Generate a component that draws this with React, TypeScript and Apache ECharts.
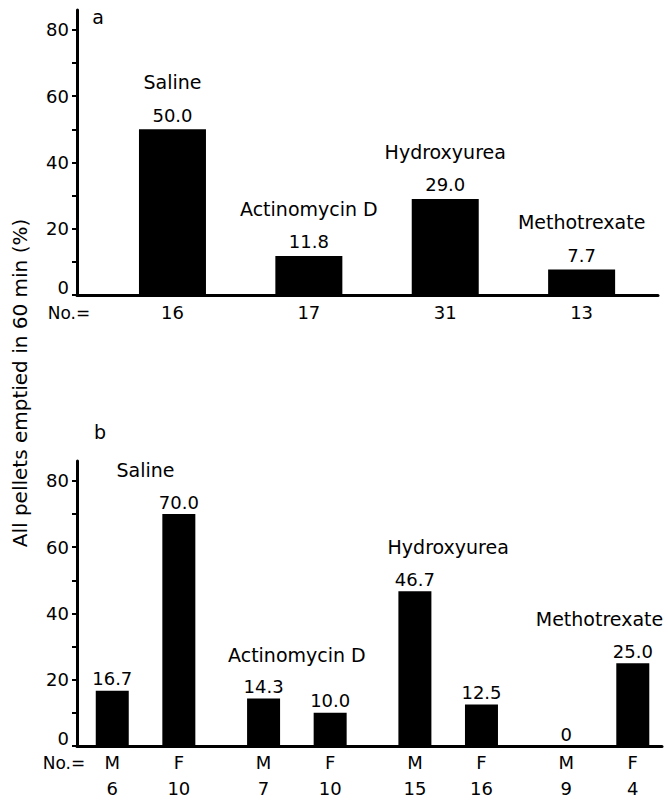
import React, { useEffect, useRef } from "react";
import * as echarts from "echarts";

// Drug groups (same order in both panels)
const drugGroups = ["Saline", "Actinomycin D", "Hydroxyurea", "Methotrexate"];

// Panel a: all animals pooled
const pooledPercent = [50.0, 11.8, 29.0, 7.7];
const pooledCounts = [16, 17, 31, 13];

// Panel b: split by sex, M then F inside each drug group
const sexes = ["M", "F"];
const malePercent = [16.7, 14.3, 46.7, 0];
const femalePercent = [70.0, 10.0, 12.5, 25.0];
const maleCounts = [6, 7, 15, 9];
const femaleCounts = [10, 10, 16, 4];

// Y axis: labelled every 20, ticked every 10
const yLabelValues = [0, 20, 40, 60, 80];
const yTickValues = [0, 10, 20, 30, 40, 50, 60, 70, 80];

const yTitle = "All pellets emptied in 60 min (%)";

const FONT = "'DejaVu Sans', 'Liberation Sans', sans-serif";
const INK = "#000";
const PAIR_HALF_GAP = 0.22; // half distance between the M and F bars of one group

const fmtValue = (v: number) => (v === 0 ? "0" : v.toFixed(1));

const groupPos = drugGroups.map((_, g) => g);
const pairPos: number[] = [];
const pairLabels: string[] = [];
const pairValues: number[] = [];
drugGroups.forEach((_, g) => {
  sexes.forEach((s) => {
    const isM = s === "M";
    pairPos.push(isM ? g - PAIR_HALF_GAP : g + PAIR_HALF_GAP);
    pairLabels.push(`${s}\n${isM ? maleCounts[g] : femaleCounts[g]}`);
    pairValues.push(isM ? malePercent[g] : femalePercent[g]);
  });
});

const nearestIndex = (arr: number[], v: number) => {
  let best = 0;
  arr.forEach((p, i) => {
    if (Math.abs(p - v) < Math.abs(arr[best] - v)) best = i;
  });
  return best;
};

const makeYAxis = (gridIndex: number) => ({
  type: "value",
  gridIndex,
  min: 0,
  max: 86,
  axisLine: { show: true, onZero: false, lineStyle: { color: INK, width: 3 } },
  axisTick: {
    show: true,
    inside: false,
    length: 5,
    customValues: yTickValues,
    lineStyle: { color: INK, width: 2 },
  },
  axisLabel: {
    show: true,
    customValues: yLabelValues,
    color: INK,
    fontSize: 18,
    fontFamily: FONT,
    margin: 8,
    // the zero label is lifted clear of the category axis
    formatter: (v: number) => (v === 0 ? "{zero|0}" : String(v)),
    rich: {
      zero: { fontSize: 18, fontFamily: FONT, color: INK, padding: [0, 0, 16, 0] },
    },
  },
  splitLine: { show: false },
});

const baseTextStyle = { fill: INK, fontFamily: FONT };

export default function App() {
  const ref = useRef<HTMLDivElement>(null);

  useEffect(() => {
    if (!ref.current) return;
    const chart = echarts.init(ref.current, null, { renderer: "svg" });

    const option: any = {
      animation: false,
      backgroundColor: "#fff",
      grid: [
        { left: 77, top: 10, width: 581, height: 285 },
        { left: 77, top: 461, width: 585, height: 285 },
      ],
      xAxis: [
        {
          type: "value",
          gridIndex: 0,
          min: -0.7,
          max: 3.56,
          axisLine: { show: true, onZero: false, lineStyle: { color: INK, width: 3 } },
          axisTick: { show: false },
          splitLine: { show: false },
          axisLabel: {
            show: true,
            customValues: groupPos,
            formatter: (v: number) => String(pooledCounts[nearestIndex(groupPos, v)]),
            color: INK,
            fontSize: 18,
            fontFamily: FONT,
            lineHeight: 26,
            margin: 4,
          },
        },
        {
          type: "value",
          gridIndex: 1,
          min: -0.453,
          max: 3.413,
          axisLine: { show: true, onZero: false, lineStyle: { color: INK, width: 3 } },
          axisTick: { show: false },
          splitLine: { show: false },
          axisLabel: {
            show: true,
            customValues: pairPos,
            formatter: (v: number) => pairLabels[nearestIndex(pairPos, v)],
            color: INK,
            fontSize: 18,
            fontFamily: FONT,
            lineHeight: 26,
            margin: 3,
          },
        },
      ],
      yAxis: [makeYAxis(0), makeYAxis(1)],
      series: [
        {
          type: "bar",
          xAxisIndex: 0,
          yAxisIndex: 0,
          barWidth: 67,
          data: pooledPercent.map((v, i) => [groupPos[i], v]),
          itemStyle: { color: INK },
          label: {
            show: true,
            position: "top",
            distance: 5,
            color: INK,
            fontSize: 18,
            fontFamily: FONT,
            formatter: (p: any) => fmtValue(p.value[1]),
          },
        },
        {
          type: "bar",
          xAxisIndex: 1,
          yAxisIndex: 1,
          barWidth: 33,
          data: pairValues.map((v, i) => [pairPos[i], v]),
          itemStyle: { color: INK },
          label: {
            show: true,
            position: "top",
            distance: 3,
            color: INK,
            fontSize: 18,
            fontFamily: FONT,
            formatter: (p: any) => fmtValue(p.value[1]),
          },
        },
      ],
    };

    chart.setOption(option);

    // Drug names sit a fixed distance above the tallest bar of each group
    const nameLift = 47;
    const names: any[] = [];
    drugGroups.forEach((name, g) => {
      const pa = chart.convertToPixel({ xAxisIndex: 0, yAxisIndex: 0 }, [g, pooledPercent[g]]) as number[];
      names.push({
        type: "text",
        x: pa[0],
        y: pa[1] - nameLift,
        style: { ...baseTextStyle, text: name, fontSize: 19, textAlign: "center", textVerticalAlign: "middle" },
      });
      const top = Math.max(malePercent[g], femalePercent[g]);
      const pb = chart.convertToPixel({ xAxisIndex: 1, yAxisIndex: 1 }, [g, top]) as number[];
      names.push({
        type: "text",
        x: pb[0],
        y: pb[1] - (nameLift - 3),
        style: { ...baseTextStyle, text: name, fontSize: 19, textAlign: "center", textVerticalAlign: "middle" },
      });
    });

    const fixedTexts: any[] = [
      { type: "text", x: 98, y: 17, style: { ...baseTextStyle, text: "a", fontSize: 19, textAlign: "center", textVerticalAlign: "middle" } },
      { type: "text", x: 100, y: 432, style: { ...baseTextStyle, text: "b", fontSize: 19, textAlign: "center", textVerticalAlign: "middle" } },
      { type: "text", x: 69, y: 313, style: { ...baseTextStyle, text: "No.=", fontSize: 17, textAlign: "center", textVerticalAlign: "middle" } },
      { type: "text", x: 64, y: 763, style: { ...baseTextStyle, text: "No.=", fontSize: 17, textAlign: "center", textVerticalAlign: "middle" } },
      {
        type: "text",
        x: 20,
        y: 383,
        rotation: Math.PI / 2,
        style: { ...baseTextStyle, text: yTitle, fontSize: 20, textAlign: "center", textVerticalAlign: "middle" },
      },
    ];

    chart.setOption({ graphic: [...fixedTexts, ...names] });

    return () => chart.dispose();
  }, []);

  return (
    <div
      ref={ref}
      style={{ position: "fixed", left: 0, top: 0, width: 668, height: 801, background: "#fff" }}
    />
  );
}
